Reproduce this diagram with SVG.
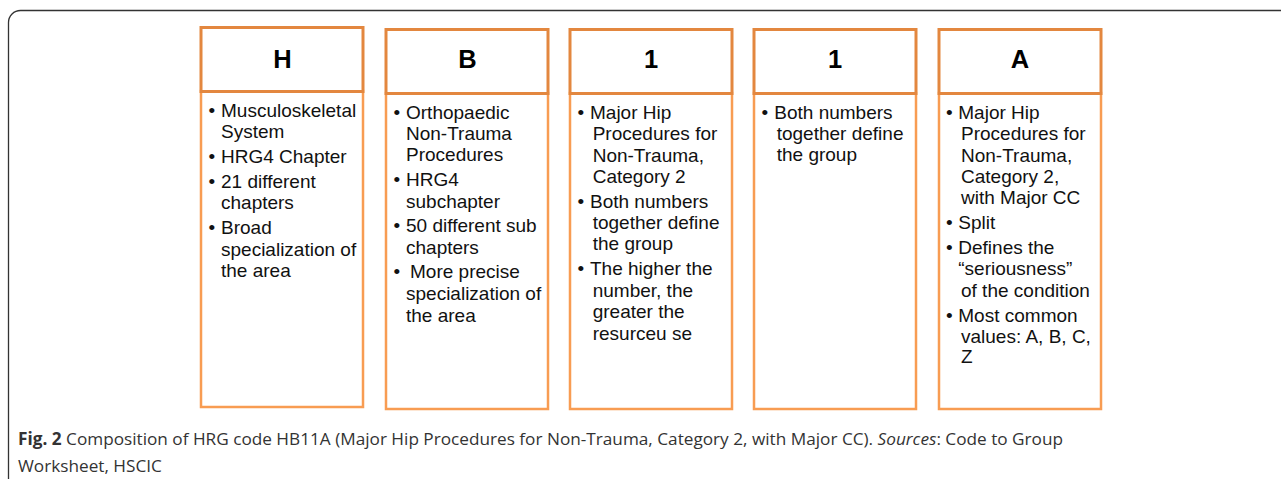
<svg xmlns="http://www.w3.org/2000/svg" width="1281" height="479" viewBox="0 0 1281 479">
<style>
.hd{fill:#fff;stroke:#E3873F;stroke-width:3}
.bd{fill:#fff;stroke:#F89C52;stroke-width:2.5}
.ttl{font-family:"Liberation Sans",Arial,sans-serif;font-weight:bold;font-size:25.5px;fill:#000;text-anchor:middle}
.tx{font-family:"Liberation Sans",Arial,sans-serif;font-size:19px;fill:#111}
.cap{font-family:"Open Sans","Noto Sans",sans-serif;font-size:17.2px;fill:#333}
</style>
<rect x="8.5" y="10.5" width="1290" height="500" rx="12" fill="#fff" stroke="#333" stroke-width="1.3"/>
<g id="node-H">
<rect class="bd" x="201" y="91" width="162" height="316"/>
<rect class="hd" x="201" y="27.5" width="162" height="64"/>
<text class="ttl" x="282.5" y="68">H</text>
<text class="tx"><tspan x="208.5" y="117">•</tspan><tspan x="221" y="117">Musculoskeletal</tspan><tspan x="221" y="138">System</tspan>
<tspan x="208.5" y="163">•</tspan><tspan x="221" y="163">HRG4 Chapter</tspan>
<tspan x="208.5" y="188">•</tspan><tspan x="221" y="188">21 different</tspan><tspan x="221" y="209">chapters</tspan>
<tspan x="208.5" y="234">•</tspan><tspan x="221" y="234">Broad</tspan><tspan x="221" y="256">specialization of</tspan><tspan x="221" y="277">the area</tspan></text>
</g>
<g id="node-B">
<rect class="bd" x="386" y="93" width="162" height="316"/>
<rect class="hd" x="386" y="29.5" width="162" height="64"/>
<text class="ttl" x="467.5" y="68">B</text>
<text class="tx"><tspan x="393.5" y="119">•</tspan><tspan x="406" y="119">Orthopaedic</tspan><tspan x="406" y="140">Non-Trauma</tspan><tspan x="406" y="161">Procedures</tspan>
<tspan x="393.5" y="186">•</tspan><tspan x="406" y="186">HRG4</tspan><tspan x="406" y="208">subchapter</tspan>
<tspan x="393.5" y="232">•</tspan><tspan x="406" y="232">50 different sub</tspan><tspan x="406" y="254">chapters</tspan>
<tspan x="393.5" y="278">•</tspan><tspan x="410" y="278">More precise</tspan><tspan x="406" y="300">specialization of</tspan><tspan x="406" y="322">the area</tspan></text>
</g>
<g id="node-1a">
<rect class="bd" x="570" y="93" width="162" height="316"/>
<rect class="hd" x="570" y="29.5" width="162" height="64"/>
<text class="ttl" x="651" y="68">1</text>
<text class="tx"><tspan x="577.5" y="119">•</tspan><tspan x="590" y="119">Major Hip</tspan><tspan x="592.7" y="140">Procedures for</tspan><tspan x="592.7" y="161.5">Non-Trauma,</tspan><tspan x="592.7" y="182.5">Category 2</tspan>
<tspan x="577.5" y="208">•</tspan><tspan x="590" y="208">Both numbers</tspan><tspan x="592.7" y="229">together define</tspan><tspan x="592.7" y="250">the group</tspan>
<tspan x="577.5" y="275">•</tspan><tspan x="590" y="275">The higher the</tspan><tspan x="592.7" y="296.5">number, the</tspan><tspan x="592.7" y="318">greater the</tspan><tspan x="592.7" y="339.5">resurceu se</tspan></text>
</g>
<g id="node-1b">
<rect class="bd" x="754" y="93" width="162" height="316"/>
<rect class="hd" x="754" y="29.5" width="162" height="64"/>
<text class="ttl" x="835" y="68">1</text>
<text class="tx"><tspan x="761.5" y="119">•</tspan><tspan x="774.3" y="119">Both numbers</tspan><tspan x="776.7" y="140">together define</tspan><tspan x="776.7" y="161">the group</tspan></text>
</g>
<g id="node-A">
<rect class="bd" x="939" y="93" width="162" height="316"/>
<rect class="hd" x="939" y="29.5" width="162" height="64"/>
<text class="ttl" x="1020" y="68">A</text>
<text class="tx"><tspan x="946" y="119">•</tspan><tspan x="958.3" y="119">Major Hip</tspan><tspan x="961" y="140">Procedures for</tspan><tspan x="961" y="161.5">Non-Trauma,</tspan><tspan x="961" y="183">Category 2,</tspan><tspan x="961" y="203.5">with Major CC</tspan>
<tspan x="946" y="228.5">•</tspan><tspan x="958.3" y="228.5">Split</tspan>
<tspan x="946" y="254">•</tspan><tspan x="958.3" y="254">Defines the</tspan><tspan x="958.3" y="274.5">“seriousness”</tspan><tspan x="961" y="296.5">of the condition</tspan>
<tspan x="946" y="321.5">•</tspan><tspan x="958.3" y="321.5">Most common</tspan><tspan x="961" y="342.5">values: A, B, C,</tspan><tspan x="961" y="363">Z</tspan></text>
</g>
<g id="connectors"></g>
<text class="cap" x="18" y="445"><tspan font-weight="bold">Fig. 2</tspan> Composition of HRG code HB11A (Major Hip Procedures for Non-Trauma, Category 2, with Major CC). <tspan font-style="italic">Sources</tspan>: Code to Group</text>
<text class="cap" x="18" y="471.5">Worksheet, HSCIC</text>
</svg>
